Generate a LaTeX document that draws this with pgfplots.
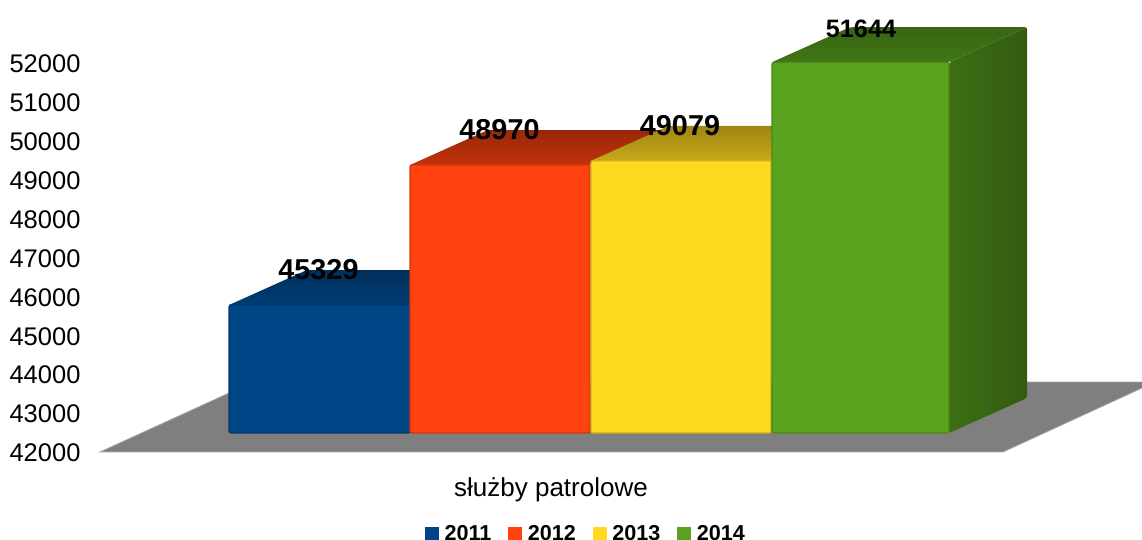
\documentclass[border=0pt]{standalone}
\usepackage{fontspec}
\setmainfont{Liberation Sans}
\usepackage{pgfplots}
\pgfplotsset{compat=1.18}
\definecolor{cBlue}{HTML}{004586}
\definecolor{cOrange}{HTML}{FF420E}
\definecolor{cYellow}{HTML}{FFD820}
\definecolor{cGreen}{HTML}{5AA31E}
\definecolor{cFloor}{HTML}{7F7F7F}
\pgfplotsset{
  base/.style={
    scale only axis, width=1057pt,
    xmin=85, xmax=1142, clip=false,
    axis line style={draw=none}, tick style={draw=none},
    major tick length=0pt,
    scaled y ticks=false,
    /pgf/number format/assume math mode=true,
    /pgf/number format/1000 sep={},
    /pgf/number format/fixed, /pgf/number format/precision=0,
  },
  front/.style={draw=#1!82!black, line width=1.2pt, rounded corners=2pt, fill=#1},
}
\begin{document}
\begin{tikzpicture}[x=1pt,y=1pt]
\useasboundingbox (-85pt,0pt) rectangle (1057pt,540pt);
% tick scale and floor
\begin{axis}[base, at={(0pt,88pt)}, anchor=south west, height=452pt,
    ymin=42000, ymax=53619.5,
    ytick={42000,43000,44000,45000,46000,47000,48000,49000,50000,51000,52000},
    yticklabel style={font=\fontsize{25.5}{30}\selectfont, xshift=-1pt, yshift=-1pt},
    xtick={551}, xticklabels={służby patrolowe},
    xticklabel style={font=\fontsize{26}{30}\selectfont, yshift=-22pt},
  ]
  \addplot[fill=cFloor, draw=gray!70, line width=0.8pt] coordinates {
    (100,42000) (1003,42000) (1155,43799) (253,43799)} --cycle;
\end{axis}
% bars, y scale of the front faces
\begin{axis}[base, at={(0pt,107pt)}, anchor=south west, height=433pt,
    ymin=42000, ymax=53261.4,
    xtick=\empty, ytick=\empty,
    legend style={at={(0.474,-0.233)}, anchor=center, draw=none, fill=none,
      legend columns=4, font=\bfseries\fontsize{21.6}{24}\selectfont,
      /tikz/every odd column/.append style={column sep=4pt},
      /tikz/every even column/.append style={column sep=15pt}},
    legend image code/.code={\fill[#1] (0pt,-6.5pt) rectangle (13pt,6.5pt);},
  ]
  \addlegendimage{cBlue}
  \addlegendimage{cOrange}
  \addlegendimage{cYellow}
  \addlegendimage{cGreen}
  % 2011
  \addplot[draw=none, top color=cBlue!68!black, bottom color=cBlue!88!black]
    coordinates {(229,45329) (307,46239) (488,46239) (410,45329)} --cycle;
  \addplot[front=cBlue] coordinates {(229,42000) (229,45329) (410,45329) (410,42000)} --cycle;
  % 2012
  \addplot[draw=none, top color=cOrange!60!black, bottom color=cOrange!76!black]
    coordinates {(410,48970) (488,49880) (668,49880) (590,48970)} --cycle;
  \addplot[front=cOrange] coordinates {(410,42000) (410,48970) (590,48970) (590,42000)} --cycle;
  % 2013
  \addplot[draw=none, top color=cYellow!62!black, bottom color=cYellow!78!black]
    coordinates {(591,49079) (669,49989) (849,49989) (771,49079)} --cycle;
  \addplot[front=cYellow] coordinates {(591,42000) (591,49079) (771,49079) (771,42000)} --cycle;
  % 2014
  \addplot[draw=none, left color=cGreen!68!black, right color=cGreen!56!black, rounded corners=2pt]
    coordinates {(949,42000) (1027,42910) (1027,52554) (949,51644)} --cycle;
  \addplot[draw=none, top color=cGreen!62!black, bottom color=cGreen!72!black, rounded corners=2pt]
    coordinates {(772,51644) (850,52554) (1027,52554) (949,51644)} --cycle;
  \addplot[front=cGreen] coordinates {(772,42000) (772,51644) (949,51644) (949,42000)} --cycle;
  % value labels
  \addplot[only marks, mark=none, nodes near coords,
    nodes near coords style={anchor=center, yshift=35pt, text=black,
      font=\bfseries\fontsize{28.8}{32}\selectfont}]
    coordinates {(318.5,45329) (499.5,48970) (680,49079)};
  \addplot[only marks, mark=none, nodes near coords,
    nodes near coords style={anchor=center, yshift=33pt, text=black,
      font=\bfseries\fontsize{25.2}{30}\selectfont}]
    coordinates {(861,51644)};
  \legend{2011,2012,2013,2014}
\end{axis}
\end{tikzpicture}
\end{document}
